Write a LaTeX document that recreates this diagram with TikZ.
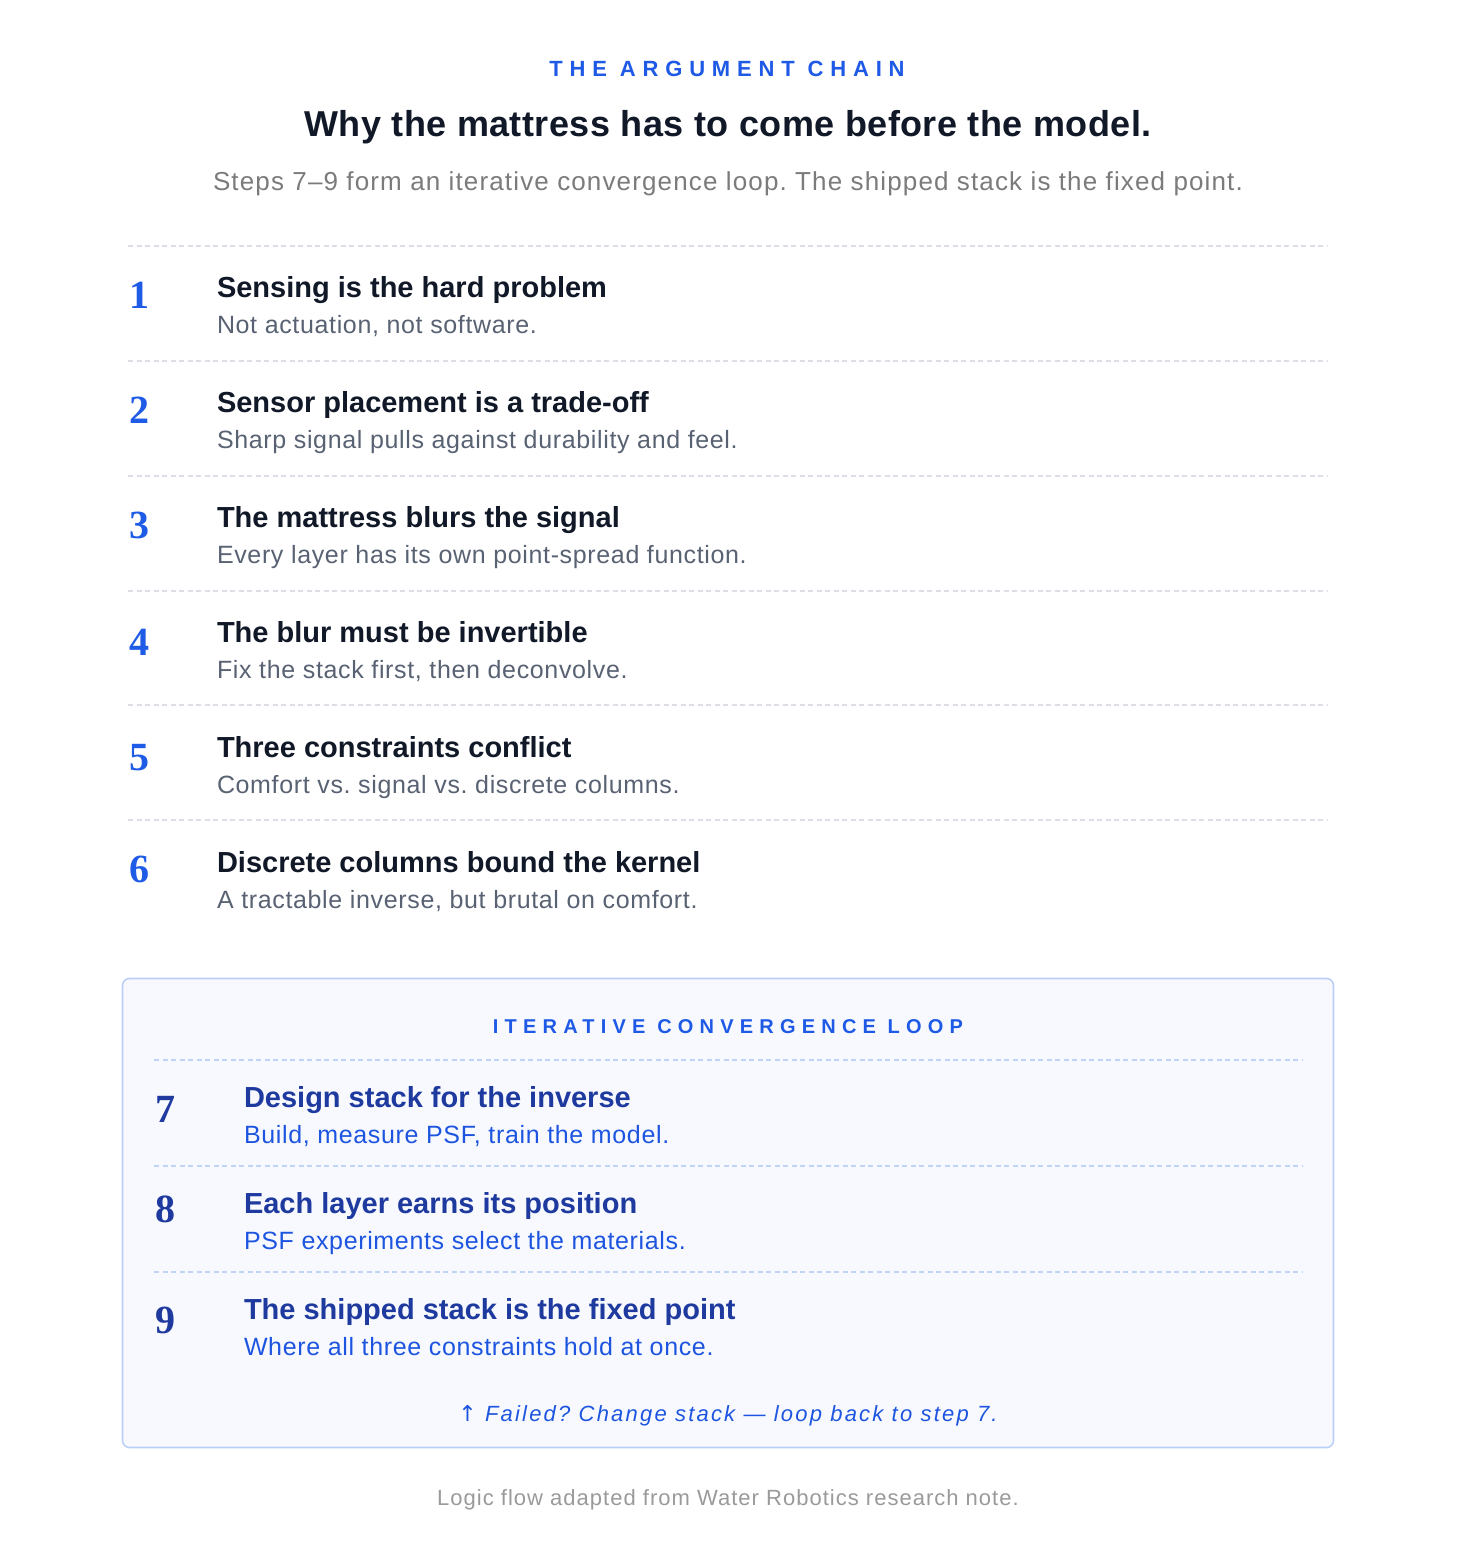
\documentclass[tikz,border=0pt]{standalone}
\usepackage{fontspec}
\setmainfont{Liberation Sans}
\newfontfamily\numfont{Liberation Serif}
\newfontfamily\arrowfont{DejaVu Sans}
\frenchspacing
\definecolor{kicker}{HTML}{1F5AE6}
\definecolor{ink}{HTML}{111827}
\definecolor{subgray}{HTML}{7B7B7B}
\definecolor{slate}{HTML}{596273}
\definecolor{rule}{HTML}{DCDFE5}
\definecolor{numblue}{HTML}{1E5BE6}
\definecolor{deepblue}{HTML}{1E3A9F}
\definecolor{midblue}{HTML}{1D55E0}
\definecolor{boxfill}{HTML}{F7F9FE}
\definecolor{boxline}{HTML}{BCD0F7}
\definecolor{boxrule}{HTML}{BFD4F7}
\definecolor{footgray}{HTML}{9A9A9A}
\tikzset{
  txt/.style={inner sep=0pt, outer sep=0pt},
  kick/.style={txt, anchor=base, text=kicker, font=\fontsize{22}{26}\selectfont\bfseries\addfontfeatures{LetterSpace=31}},
  rtitle/.style={txt, anchor=base west, text=ink, font=\fontsize{29}{33}\selectfont\bfseries},
  rsub/.style={txt, anchor=base west, text=slate, font=\fontsize{25}{29}\selectfont\addfontfeatures{LetterSpace=2.6}},
  rnum/.style={txt, anchor=base west, text=numblue, font=\fontsize{40}{44}\selectfont\numfont\bfseries},
  ltitle/.style={rtitle, text=deepblue},
  lsub/.style={rsub, text=midblue},
  lnum/.style={rnum, text=deepblue},
  sep/.style={draw=rule, line width=1.3pt, dash pattern=on 5pt off 3.5pt},
  lsep/.style={draw=boxrule, line width=1.3pt, dash pattern=on 5pt off 3.5pt},
}
\begin{document}
\begin{tikzpicture}[x=1pt,y=-1pt]
\useasboundingbox[fill=white] (0,0) rectangle (1456,1549);

\node[kick] (kicker) at (727,77) {THE ARGUMENT CHAIN};
\node[txt, anchor=base, text=ink, font=\fontsize{36}{40}\selectfont\bfseries\addfontfeatures{LetterSpace=1.3}] (title) at (728,137) {Why the mattress has to come before the model.};
\node[txt, anchor=base, text=subgray, font=\fontsize{26}{30}\selectfont\addfontfeatures{LetterSpace=4.4}] (subtitle) at (728,190) {Steps 7–9 form an iterative convergence loop. The shipped stack is the fixed point.};

% separators
\foreach \yy [count=\i] in {246,361,476,591,705,820}{
  \coordinate (sl\i) at (128,\yy);
  \coordinate (sr\i) at (1328,\yy);
  \draw[sep] (sl\i) -- (sr\i);
}

% rows 1-6
\node[rnum] (n1) at (129,308) {1};
\node[rtitle] (t1) at (217,297) {Sensing is the hard problem};
\node[rsub] (s1) at (217,333) {Not actuation, not software.};

\node[rnum] (n2) at (129,423) {2};
\node[rtitle] (t2) at (217,412) {Sensor placement is a trade-off};
\node[rsub] (s2) at (217,448) {Sharp signal pulls against durability and feel.};

\node[rnum] (n3) at (129,538) {3};
\node[rtitle] (t3) at (217,527) {The mattress blurs the signal};
\node[rsub] (s3) at (217,563) {Every layer has its own point-spread function.};

\node[rnum] (n4) at (129,655) {4};
\node[rtitle] (t4) at (217,642) {The blur must be invertible};
\node[rsub] (s4) at (217,678) {Fix the stack first, then deconvolve.};

\node[rnum] (n5) at (129,770) {5};
\node[rtitle] (t5) at (217,757) {Three constraints conflict};
\node[rsub] (s5) at (217,793) {Comfort vs. signal vs. discrete columns.};

\node[rnum] (n6) at (129,882) {6};
\node[rtitle] (t6) at (217,872) {Discrete columns bound the kernel};
\node[rsub] (s6) at (217,908) {A tractable inverse, but brutal on comfort.};

% loop box
\draw[draw=boxline, fill=boxfill, line width=1.6pt, rounded corners=7pt] (122.5,978.5) rectangle (1333.5,1447.5);
\node[kick, font=\fontsize{20}{24}\selectfont\bfseries\addfontfeatures{LetterSpace=31}] (loophead) at (728,1033) {ITERATIVE CONVERGENCE LOOP};

\foreach \yy [count=\i] in {1060,1166,1272}{
  \coordinate (bl\i) at (154,\yy);
  \coordinate (br\i) at (1302,\yy);
  \draw[lsep] (bl\i) -- (br\i);
}

\node[lnum] (n7) at (155,1122) {7};
\node[ltitle] (t7) at (244,1107) {Design stack for the inverse};
\node[lsub] (s7) at (244,1143) {Build, measure PSF, train the model.};

\node[lnum] (n8) at (155,1222) {8};
\node[ltitle] (t8) at (244,1213) {Each layer earns its position};
\node[lsub] (s8) at (244,1249) {PSF experiments select the materials.};

\node[lnum] (n9) at (155,1333) {9};
\node[ltitle] (t9) at (244,1319) {The shipped stack is the fixed point};
\node[lsub] (s9) at (244,1355) {Where all three constraints hold at once.};

\node[txt, anchor=base, text=midblue, font=\fontsize{22}{26}\selectfont\itshape\addfontfeatures{LetterSpace=10}] (loopback) at (728,1421) {{\arrowfont\upshape ↑} Failed? Change stack — loop back to step 7.};

\node[txt, anchor=base, text=footgray, font=\fontsize{22}{26}\selectfont\addfontfeatures{LetterSpace=4.6}] (footer) at (728,1505) {Logic flow adapted from Water Robotics research note.};
\end{tikzpicture}
\end{document}
